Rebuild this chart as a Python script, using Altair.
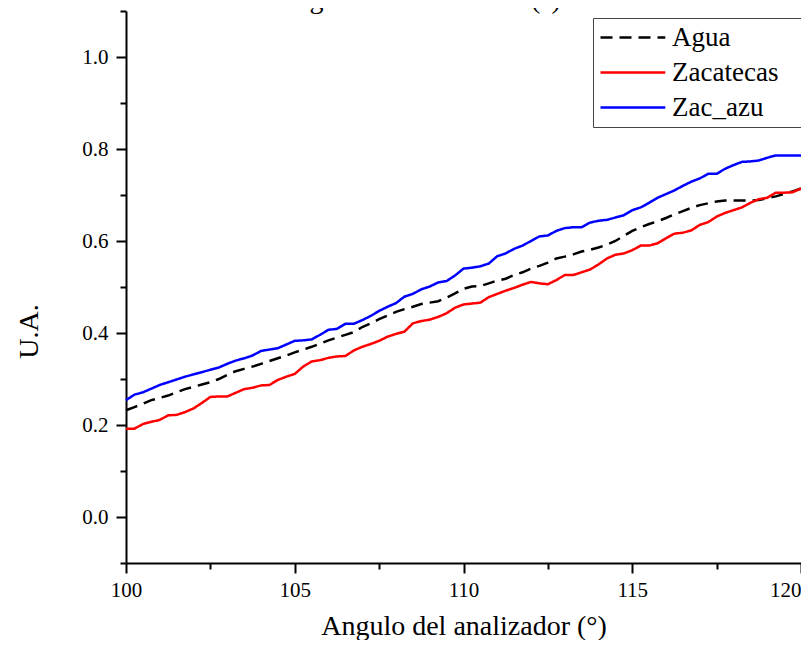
import altair as alt
import pandas as pd

# Analyzer angle (degrees)
angulo = [100.0, 100.25, 100.5, 100.75, 101.0, 101.25, 101.5, 101.75, 102.0, 102.25,
          102.5, 102.75, 103.0, 103.25, 103.5, 103.75, 104.0, 104.25, 104.5, 104.75,
          105.0, 105.25, 105.5, 105.75, 106.0, 106.25, 106.5, 106.75, 107.0, 107.25,
          107.5, 107.75, 108.0, 108.25, 108.5, 108.75, 109.0, 109.25, 109.5, 109.75,
          110.0, 110.25, 110.5, 110.75, 111.0, 111.25, 111.5, 111.75, 112.0, 112.25,
          112.5, 112.75, 113.0, 113.25, 113.5, 113.75, 114.0, 114.25, 114.5, 114.75,
          115.0, 115.25, 115.5, 115.75, 116.0, 116.25, 116.5, 116.75, 117.0, 117.25,
          117.5, 117.75, 118.0, 118.25, 118.5, 118.75, 119.0, 119.25, 119.5, 119.75,
          120.0]

agua = [0.232, 0.239, 0.246, 0.254, 0.259, 0.264, 0.271, 0.278, 0.283, 0.288,
        0.293, 0.300, 0.309, 0.317, 0.322, 0.327, 0.333, 0.339, 0.345, 0.351,
        0.358, 0.364, 0.370, 0.377, 0.384, 0.390, 0.396, 0.402, 0.413, 0.421,
        0.430, 0.438, 0.446, 0.452, 0.457, 0.463, 0.466, 0.469, 0.477, 0.486,
        0.496, 0.501, 0.502, 0.508, 0.514, 0.518, 0.526, 0.532, 0.540, 0.546,
        0.553, 0.562, 0.566, 0.571, 0.577, 0.581, 0.586, 0.592, 0.600, 0.611,
        0.622, 0.630, 0.637, 0.643, 0.650, 0.658, 0.665, 0.672, 0.678, 0.682,
        0.686, 0.688, 0.688, 0.688, 0.688, 0.689, 0.693, 0.697, 0.702, 0.708,
        0.714]

zacatecas = [0.192, 0.192, 0.202, 0.207, 0.211, 0.221, 0.222, 0.228, 0.236, 0.248,
             0.261, 0.262, 0.262, 0.270, 0.278, 0.281, 0.286, 0.287, 0.298, 0.305,
             0.311, 0.327, 0.338, 0.341, 0.346, 0.349, 0.350, 0.362, 0.370, 0.376,
             0.383, 0.392, 0.398, 0.403, 0.421, 0.426, 0.429, 0.435, 0.443, 0.455,
             0.462, 0.464, 0.466, 0.478, 0.485, 0.492, 0.498, 0.505, 0.511, 0.508,
             0.506, 0.515, 0.526, 0.526, 0.532, 0.538, 0.549, 0.562, 0.570, 0.573,
             0.580, 0.590, 0.590, 0.595, 0.606, 0.616, 0.618, 0.623, 0.635, 0.641,
             0.653, 0.661, 0.667, 0.673, 0.683, 0.691, 0.694, 0.705, 0.705, 0.706,
             0.714]

zac_azu = [0.254, 0.266, 0.271, 0.279, 0.287, 0.293, 0.299, 0.305, 0.310, 0.315,
           0.320, 0.325, 0.333, 0.340, 0.345, 0.351, 0.361, 0.364, 0.367, 0.375,
           0.383, 0.384, 0.386, 0.396, 0.407, 0.409, 0.420, 0.420, 0.428, 0.437,
           0.448, 0.457, 0.465, 0.479, 0.485, 0.495, 0.501, 0.510, 0.513, 0.525,
           0.540, 0.542, 0.545, 0.551, 0.567, 0.573, 0.583, 0.590, 0.600, 0.610,
           0.612, 0.622, 0.628, 0.630, 0.630, 0.640, 0.644, 0.646, 0.651, 0.656,
           0.667, 0.673, 0.683, 0.694, 0.702, 0.710, 0.720, 0.729, 0.736, 0.746,
           0.746, 0.757, 0.765, 0.772, 0.773, 0.775, 0.781, 0.786, 0.786, 0.786,
           0.786]

series_names = ["Agua", "Zacatecas", "Zac_azu"]
series_colors = ["#000000", "#ff0000", "#0000ff"]
series_dash = [[12, 7], [1, 0], [1, 0]]

x_ticks = [100, 102.5, 105, 107.5, 110, 112.5, 115, 117.5, 120]
y_ticks = [-0.1, 0.0, 0.1, 0.2, 0.3, 0.4, 0.5, 0.6, 0.7, 0.8, 0.9, 1.0, 1.1]

x_title = "Angulo del analizador (°)"
y_title = "U.A."

rows = []
for name, vals in zip(series_names, [agua, zacatecas, zac_azu]):
    for a, v in zip(angulo, vals):
        rows.append({"angulo": a, "valor": v, "serie": name})
df = pd.DataFrame(rows)

FONT = "Liberation Serif"
W, H = 675, 552

x_minor_test = "datum.value % 5 != 0"
y_minor_test = "abs(round(datum.value * 10) % 2) == 1"

# legend key: a long horizontal stroke; the trailing move-to only widens the frame
legend = alt.Legend(title=None, orient="none", legendX=467, legendY=7,
                    labelFont=FONT, labelFontSize=27,
                    symbolType="M-1,0H4.4M15.2,0", symbolSize=576, symbolStrokeWidth=2.5,
                    labelOffset=46, padding=6, rowPadding=7)

lines = alt.Chart(df).mark_line(strokeWidth=2.5).encode(
    x=alt.X("angulo:Q",
            scale=alt.Scale(domain=[100, 120], nice=False, zero=False),
            axis=alt.Axis(values=x_ticks, title=x_title, grid=False,
                          tickSize={"condition": {"test": x_minor_test, "value": 6}, "value": 10},
                          labelExpr="datum.value % 5 != 0 ? '' : datum.label",
                          labelAlign={"condition": {"test": "datum.value == 120", "value": "right"},
                                      "value": "center"},
                          labelOverlap=False, labelPadding=6, labelFont=FONT,
                          titlePadding=12)),
    y=alt.Y("valor:Q",
            scale=alt.Scale(domain=[-0.1, 1.1], nice=False, zero=False),
            axis=alt.Axis(values=y_ticks, title=y_title, grid=False, format=".1f",
                          tickSize={"condition": {"test": y_minor_test, "value": 6}, "value": 10},
                          labelExpr="abs(round(datum.value * 10) % 2) == 1 ? '' : datum.label",
                          labelOverlap=False, labelPadding=8, labelFont=FONT,
                          titlePadding=38, titleY=320)),
    color=alt.Color("serie:N",
                    scale=alt.Scale(domain=series_names, range=series_colors),
                    legend=legend),
    strokeDash=alt.StrokeDash("serie:N",
                              scale=alt.Scale(domain=series_names, range=series_dash),
                              legend=legend),
)

top_title = alt.Chart(pd.DataFrame({"t": [x_title]})).mark_text(
    font=FONT, fontSize=28, baseline="alphabetic", align="center", color="#000000"
).encode(text="t:N", x=alt.value(292), y=alt.value(-3))

chart = alt.layer(lines, top_title).properties(
    width=W, height=H,
    autosize=alt.AutoSizeParams(type="none"),
    padding={"left": 118, "top": 3, "right": 0, "bottom": 77},
).configure_view(stroke=None).configure_axis(
    domainColor="#000000", domainWidth=2, tickColor="#000000", tickWidth=2,
    labelFont=FONT, labelFontSize=21, labelColor="#000000",
    titleFont=FONT, titleFontSize=28, titleColor="#000000", titleFontWeight="normal",
).configure_legend(
    labelFont=FONT, labelFontSize=27, labelColor="#000000",
    strokeColor="#444444", fillColor="#ffffff", cornerRadius=0,
)

chart.save("out.html", embed_options={"renderer": "svg", "actions": False})
